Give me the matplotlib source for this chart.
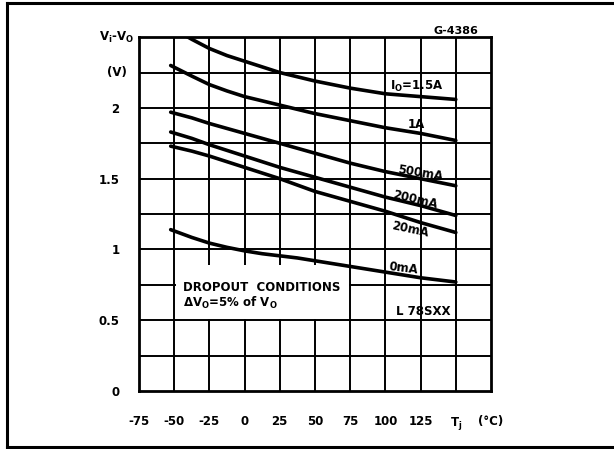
import matplotlib.pyplot as plt
import matplotlib.patches as patches
from matplotlib.lines import Line2D

# Данные: температура перехода и падение напряжения для каждого тока нагрузки
temps = [-52.5, -37.5, -25, -12.5, 0, 12.5, 25, 37.5, 50, 62.5, 75, 87.5,
         100, 112.5, 125, 137.5, 150]
v_1500ma = [2.57, 2.485, 2.42, 2.37, 2.33, 2.29, 2.25, 2.22, 2.19, 2.165, 2.14,
            2.12, 2.10, 2.09, 2.08, 2.07, 2.06]
v_1a = [2.30, 2.225, 2.165, 2.12, 2.08, 2.05, 2.02, 1.99, 1.96, 1.935, 1.91,
        1.885, 1.86, 1.84, 1.82, 1.795, 1.77]
v_500ma = [1.97, 1.93, 1.89, 1.855, 1.82, 1.785, 1.75, 1.715, 1.68, 1.645, 1.61,
           1.58, 1.55, 1.525, 1.50, 1.475, 1.45]
v_200ma = [1.83, 1.785, 1.74, 1.70, 1.66, 1.62, 1.58, 1.545, 1.51, 1.475, 1.44,
           1.405, 1.37, 1.34, 1.31, 1.275, 1.24]
v_20ma = [1.73, 1.695, 1.66, 1.62, 1.58, 1.54, 1.50, 1.455, 1.41, 1.375, 1.34,
          1.305, 1.27, 1.23, 1.19, 1.155, 1.12]
v_0ma = [1.14, 1.085, 1.045, 1.015, 0.99, 0.97, 0.955, 0.94, 0.92, 0.90, 0.88,
         0.86, 0.84, 0.82, 0.80, 0.785, 0.77]

x_ticks = [-75, -50, -25, 0, 25, 50, 75, 100, 125, 150, 175]
x_labels = ['-75', '-50', '-25', '0', '25', '50', '75', '100', '125', '$\\mathbf{T_j}$', '(°C)']
y_ticks = [0, 0.5, 1, 1.5, 2]
y_labels = ['0', '0.5', '1', '1.5', '2']

plt.rcParams['font.family'] = ['DejaVu Sans']
plt.rcParams['font.weight'] = 'bold'

fig = plt.figure(figsize=(6.14, 4.49), dpi=100)
ax = fig.add_axes([0.2264, 0.1292, 0.5733, 0.788])

# Сетка
for xv in range(-50, 175, 25):
    ax.axvline(xv, color='black', lw=1.4, zorder=1)
for k in range(1, 10):
    ax.axhline(k * 0.25, color='black', lw=1.4, zorder=1)

# Белая плашка под подписью
box = patches.Rectangle((-48.8, 0.507), 122.6, 0.38, facecolor='white',
                        edgecolor='none', zorder=2)
ax.add_patch(box)

for vals in [v_1500ma, v_1a, v_500ma, v_200ma, v_20ma, v_0ma]:
    ax.plot(temps, vals, color='black', lw=2.6, zorder=3, solid_capstyle='round')

ax.set_xlim(-75, 175)
ax.set_ylim(0, 2.5)
for s in ax.spines.values():
    s.set_linewidth(2.0)

ax.set_xticks(x_ticks)
ax.set_xticklabels(x_labels)
ax.set_yticks(y_ticks)
ax.set_yticklabels(y_labels)
ax.tick_params(length=0, labelsize=8.5)
ax.tick_params(axis='x', pad=17)
ax.tick_params(axis='y', pad=14)
for lbl in ax.get_xticklabels() + ax.get_yticklabels():
    lbl.set_fontweight('bold')

# Подписи кривых
ax.text(122, 2.15, '$\\mathbf{I_O}$=1.5A', fontsize=8.5, ha='center', va='center', zorder=4)
ax.text(122, 1.885, '1A', fontsize=8.5, ha='center', va='center', zorder=4)
ax.text(125, 1.54, '500mA', fontsize=8.5, ha='center', va='center', rotation=-9, zorder=4)
ax.text(121, 1.35, '200mA', fontsize=8.5, ha='center', va='center', rotation=-13, zorder=4)
ax.text(117.5, 1.14, '20mA', fontsize=8.5, ha='center', va='center', rotation=-12, zorder=4)
ax.text(112.5, 0.87, '0mA', fontsize=8.5, ha='center', va='center', rotation=-7, zorder=4)

ax.text(-44, 0.73, 'DROPOUT  CONDITIONS', fontsize=8.5, va='center', zorder=4)
ax.text(-44, 0.62, '$\\mathbf{\\Delta V_O}$=5% of $\\mathbf{V_O}$', fontsize=8.5,
        va='center', zorder=4)
ax.text(146, 0.56, 'L 78SXX', fontsize=8.5, ha='right', va='center', zorder=4)

ax.text(166, 2.505, 'G-4386', fontsize=8, ha='right', va='bottom', clip_on=False)
ax.text(-91, 2.5, '$\\mathbf{V_i}$-$\\mathbf{V_O}$', fontsize=8.5, ha='center',
        va='center', clip_on=False)
ax.text(-91, 2.25, '(V)', fontsize=8.5, ha='center', va='center', clip_on=False)

# Внешняя рамка
fig.add_artist(Line2D([0.0114, 0.0114], [0.002, 0.994], color='black', lw=2.2,
                      transform=fig.transFigure))
fig.add_artist(Line2D([0.0114, 1.0], [0.994, 0.994], color='black', lw=2.2,
                      transform=fig.transFigure))
fig.add_artist(Line2D([0.0114, 1.0], [0.004, 0.004], color='black', lw=2.2,
                      transform=fig.transFigure))

fig.savefig('out.png', dpi=100)
